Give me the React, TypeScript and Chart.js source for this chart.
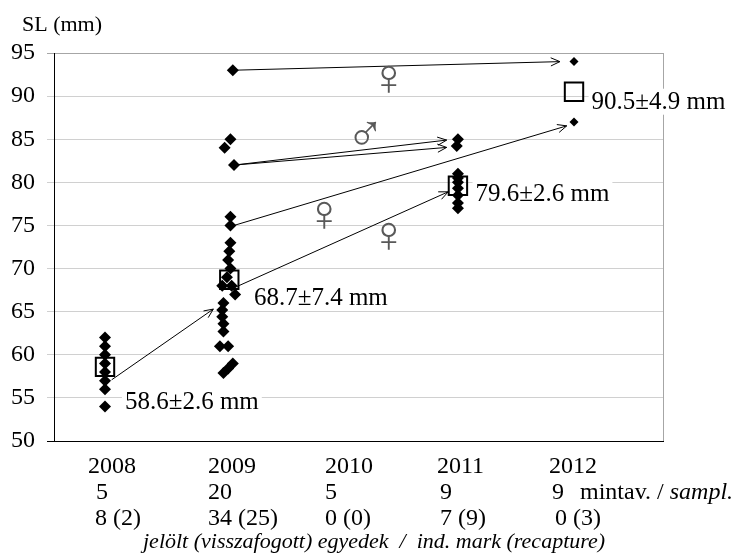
import React, { useEffect, useRef } from 'react';
import { Chart, registerables } from 'chart.js';

Chart.register(...registerables);

const SERIF = '"Liberation Serif", "Times New Roman", serif';

// ---- data ----
const years = ['2008', '2009', '2010', '2011', '2012'];
const samplingCounts = ['5', '20', '5', '9', '9'];
const markedCounts = ['8 (2)', '34 (25)', '0 (0)', '7 (9)', '0 (3)'];

const x2008 = [2008, 2008, 2008, 2008, 2008, 2008, 2008, 2008];
const sl2008 = [62, 61, 60, 59, 58, 57, 56, 54];

const x2009 = [2009.09, 2009.07, 2009.02, 2009.1, 2009.07, 2009.07, 2009.07, 2009.06, 2009.05, 2009.07, 2009.04, 2009.0, 2009.08, 2009.11, 2009.01, 2009.0, 2009.0, 2009.01, 2009.01, 2008.98, 2009.05, 2009.09, 2009.05, 2009.01];
const sl2009 = [93, 85, 84, 82, 76, 75, 73, 72, 71, 70, 69, 68, 68, 67, 66, 65.2, 64.4, 63.6, 62.7, 61, 61, 59, 58.4, 57.9];

const x2011 = [2011.01, 2011.0, 2011.01, 2011.01, 2011.01, 2011.01, 2011.01, 2011.01, 2011.01];
const sl2011 = [85, 84.2, 81, 80.5, 80, 79.3, 78.5, 77.6, 77];

const x2012 = [2012, 2012];
const sl2012 = [94, 87];

const meanX = [2008, 2009.06, 2011.01, 2012];
const meanSL = [58.6, 68.7, 79.6, 90.5];
const meanLabels = ['58.6±2.6 mm', '68.7±7.4 mm', '79.6±2.6 mm', '90.5±4.9 mm'];

// recapture arrows
const arrowFromX = [2008.057, 2009.09, 2009.1, 2009.1, 2009.1, 2009.09];
const arrowFromY = [57.1, 67.7, 75, 82, 82, 93];
const arrowToX = [2008.924, 2010.927, 2011.938, 2010.914, 2010.914, 2011.88];
const arrowToY = [65.3, 78.9, 86.55, 84.9, 84.05, 94.0];

const sexSymbols = ['♀', '♂', '♀', '♀'];
const sexX = [2010.42, 2010.22, 2009.87, 2010.42];
const sexY = [91.98, 85.72, 76.21, 73.78];

// ---- layout constants (not data) ----
const X_MIN = 2007.565;
const X_MAX = 2012.759;
const labelAnchorX = [2008.17, 2009.27, 2011.16, 2012.15];
const labelAnchorY = [54.58, 66.7, 78.76, 89.35];
const yearLeft = [88, 208, 325, 437, 549];
const sampLeft = [96, 208, 325, 440, 552];
const markLeft = [95, 208, 325, 440, 555];

const toPts = (xs: number[], ys: number[]) => ys.map((y, i) => ({ x: xs[i], y }));

const overlay = {
  id: 'overlay',
  beforeDatasetsDraw(chart: any) {
    const { ctx, chartArea: a } = chart;
    ctx.save();
    ctx.strokeStyle = '#a6a6a6';
    ctx.lineWidth = 1;
    ctx.beginPath();
    ctx.moveTo(Math.round(a.right) + 0.5, a.top);
    ctx.lineTo(Math.round(a.right) + 0.5, a.bottom);
    ctx.stroke();
    ctx.restore();
  },
  afterDatasetsDraw(chart: any) {
    const { ctx } = chart;
    const xs = chart.scales.x;
    const ys = chart.scales.y;
    ctx.save();

    // arrows
    ctx.strokeStyle = '#000';
    ctx.lineWidth = 1;
    for (let i = 0; i < arrowFromX.length; i++) {
      const x0 = xs.getPixelForValue(arrowFromX[i]);
      const y0 = ys.getPixelForValue(arrowFromY[i]);
      const x1 = xs.getPixelForValue(arrowToX[i]);
      const y1 = ys.getPixelForValue(arrowToY[i]);
      const ang = Math.atan2(y1 - y0, x1 - x0);
      ctx.beginPath();
      ctx.moveTo(x0, y0);
      ctx.lineTo(x1, y1);
      ctx.stroke();
      const L = 10, h = 0.42;
      ctx.beginPath();
      ctx.moveTo(x1 - L * Math.cos(ang - h), y1 - L * Math.sin(ang - h));
      ctx.lineTo(x1, y1);
      ctx.lineTo(x1 - L * Math.cos(ang + h), y1 - L * Math.sin(ang + h));
      ctx.stroke();
    }

    // sex symbols
    ctx.fillStyle = '#595959';
    ctx.font = `52px ${SERIF}`;
    ctx.textAlign = 'center';
    ctx.textBaseline = 'alphabetic';
    for (let i = 0; i < sexSymbols.length; i++) {
      const m = ctx.measureText(sexSymbols[i]);
      const px = xs.getPixelForValue(sexX[i]);
      const py = ys.getPixelForValue(sexY[i]);
      const asc = m.actualBoundingBoxAscent, desc = m.actualBoundingBoxDescent;
      ctx.fillText(sexSymbols[i], px, py + (asc - desc) / 2);
    }

    // mean labels with white background
    ctx.font = `25px ${SERIF}`;
    ctx.textAlign = 'left';
    ctx.textBaseline = 'middle';
    for (let i = 0; i < meanLabels.length; i++) {
      const px = xs.getPixelForValue(labelAnchorX[i]);
      const py = ys.getPixelForValue(labelAnchorY[i]);
      const w = ctx.measureText(meanLabels[i]).width;
      ctx.fillStyle = '#fff';
      ctx.fillRect(px - 3, py - 13, w + 6, 26);
      ctx.fillStyle = '#000';
      ctx.fillText(meanLabels[i], px, py + 1);
    }

    // title
    ctx.textBaseline = 'alphabetic';
    ctx.font = `22px ${SERIF}`;
    ctx.fillText('SL (mm)', 22, 31);

    // bottom table
    ctx.font = `24px ${SERIF}`;
    years.forEach((t, i) => ctx.fillText(t, yearLeft[i], 473));
    samplingCounts.forEach((t, i) => ctx.fillText(t, sampLeft[i], 499));
    ctx.fillText('mintav. / ', 580, 499);
    const mw = ctx.measureText('mintav. / ').width;
    ctx.font = `italic 24px ${SERIF}`;
    ctx.fillText('sampl.', 580 + mw, 499);
    ctx.font = `24px ${SERIF}`;
    markedCounts.forEach((t, i) => ctx.fillText(t, markLeft[i], 525));
    ctx.font = `italic 22px ${SERIF}`;
    ctx.fillText('jelölt (visszafogott) egyedek  /  ind. mark (recapture)', 143, 548);

    ctx.restore();
  },
};

export default function App() {
  const ref = useRef<HTMLCanvasElement | null>(null);
  useEffect(() => {
    if (!ref.current) return;
    const chart = new Chart(ref.current, {
      type: 'scatter',
      data: {
        datasets: [
          {
            label: 'means',
            data: toPts(meanX, meanSL),
            pointStyle: 'rect',
            pointRadius: 13,
            pointBorderWidth: 2,
            pointBorderColor: '#000',
            pointBackgroundColor: 'rgba(0,0,0,0)',
          },
          {
            label: 'individuals',
            data: [...toPts(x2008, sl2008), ...toPts(x2009, sl2009), ...toPts(x2011, sl2011)],
            pointStyle: 'rectRot',
            pointRadius: 6,
            pointBorderWidth: 0,
            pointBackgroundColor: '#000',
            pointBorderColor: '#000',
          },
          {
            label: 'recaptured 2012',
            data: toPts(x2012, sl2012),
            pointStyle: 'rectRot',
            pointRadius: 4.5,
            pointBorderWidth: 0,
            pointBackgroundColor: '#000',
            pointBorderColor: '#000',
          },
        ],
      },
      options: {
        responsive: false,
        animation: false,
        devicePixelRatio: 1,
        layout: { padding: { top: 53, right: 72, bottom: 112, left: 0 } },
        plugins: { legend: { display: false }, tooltip: { enabled: false } },
        scales: {
          x: {
            type: 'linear',
            min: X_MIN,
            max: X_MAX,
            ticks: { display: false },
            grid: { display: false },
            border: { display: true, color: '#000', width: 1 },
            afterFit: (s: any) => { s.height = 0; },
          },
          y: {
            type: 'linear',
            min: 50,
            max: 95,
            ticks: {
              stepSize: 5,
              padding: 12,
              color: '#000',
              font: { family: SERIF, size: 24 },
            },
            grid: {
              tickLength: 7,
              color: (c: any) => (c.tick && c.tick.value === 95 ? '#a6a6a6' : c.tick && c.tick.value === 50 ? '#000' : '#d0d0d0'),
            },
            border: { display: true, color: '#000', width: 1 },
            afterFit: (s: any) => { s.width = 54; },
          },
        },
      },
      plugins: [overlay],
    });
    return () => chart.destroy();
  }, []);
  return (
    <div style={{ position: 'fixed', left: 0, top: 0, width: 735, height: 553, background: '#fff' }}>
      <canvas ref={ref} width={735} height={553} />
    </div>
  );
}
